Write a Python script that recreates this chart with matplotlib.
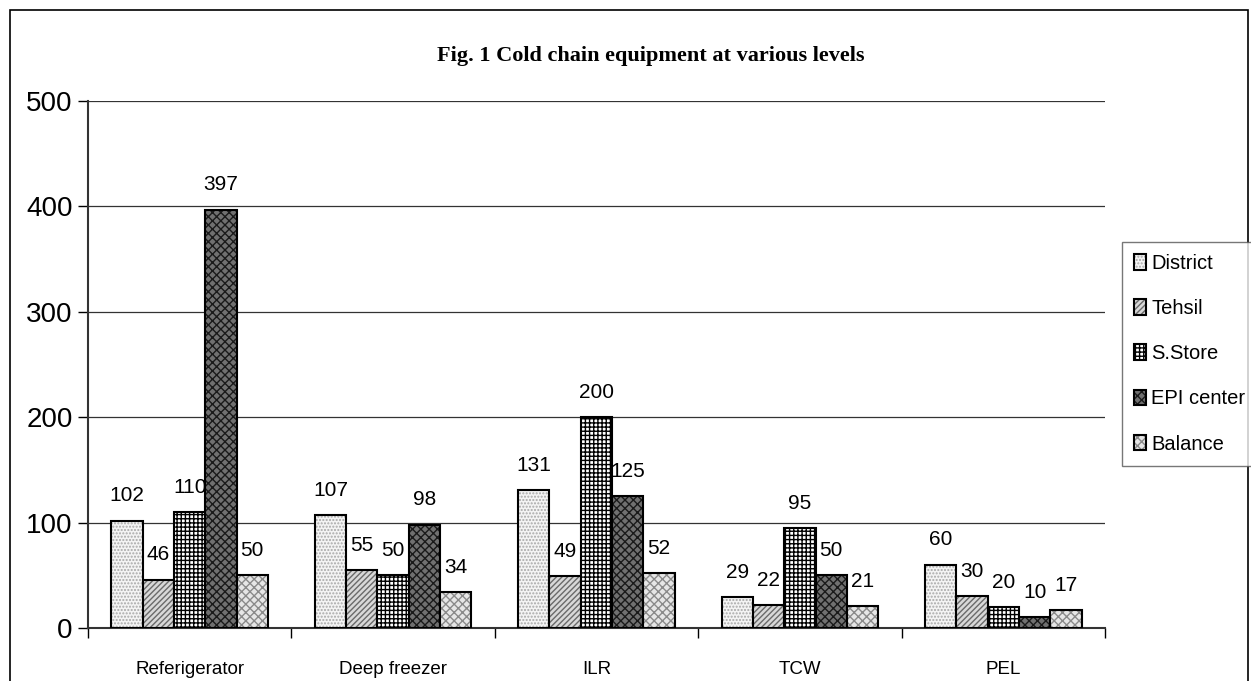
import numpy as np
import matplotlib.pyplot as plt
from matplotlib.patches import Rectangle
from matplotlib.colors import to_rgba

categories = ['Referigerator', 'Deep freezer', 'ILR', 'TCW', 'PEL']
series = ['District', 'Tehsil', 'S.Store', 'EPI center', 'Balance']
values = {
    'District':   [102, 107, 131, 29, 60],
    'Tehsil':     [46, 55, 49, 22, 30],
    'S.Store':    [110, 50, 200, 95, 20],
    'EPI center': [397, 98, 125, 50, 10],
    'Balance':    [50, 34, 52, 21, 17],
}
yticks = [0, 100, 200, 300, 400, 500]

# fill / hatch look of the old excel patterns
styles = {
    'District':   dict(facecolor='#f4f4f4', hatch='.....', hcol='#a8a8a8'),
    'Tehsil':     dict(facecolor='#d8d8d8', hatch='//////', hcol='#6a6a6a'),
    'S.Store':    dict(facecolor='white', hatch='++++', hcol='black'),
    'EPI center': dict(facecolor='#707070', hatch='xxxx', hcol='#1a1a1a'),
    'Balance':    dict(facecolor='#e6e6e6', hatch='xxxx', hcol='#8a8a8a'),
}

plt.rcParams['font.family'] = ['Liberation Sans', 'DejaVu Sans']

fig = plt.figure(figsize=(12.51, 6.81), dpi=100)
ax = fig.add_axes([0.0703, 0.0778, 0.8130, 0.7739])

x = np.arange(len(categories))
w = 0.154
handles = []
for i, s in enumerate(series):
    st = styles[s]
    pos = x + (i - 2) * w
    bars = ax.bar(pos, values[s], width=w, facecolor=st['facecolor'],
                  edgecolor='black', linewidth=1.5, hatch=st['hatch'],
                  label=s, zorder=3)
    for b in bars:
        b._hatch_color = to_rgba(st['hcol'])
    handles.append(bars)
    for px, v in zip(pos, values[s]):
        ax.annotate(str(v), (px, v), xytext=(0, 11), textcoords='offset points',
                    ha='center', va='bottom', fontsize=15)

ax.set_xlim(-0.5, len(categories) - 0.5)
ax.set_ylim(0, 500)
ax.set_yticks(yticks)
ax.set_yticklabels([str(t) for t in yticks], fontsize=20)
ax.yaxis.grid(True, color='#333333', linewidth=0.9, zorder=0)
ax.set_axisbelow(True)

ax.set_xticks(np.arange(len(categories) + 1) - 0.5)
ax.set_xticklabels([])
ax.set_xticks(x, minor=True)
ax.set_xticklabels(categories, minor=True, fontsize=13.5)
ax.tick_params(axis='x', which='minor', length=0, pad=24)
ax.tick_params(axis='x', which='major', length=7, width=1, color='black')
ax.tick_params(axis='y', length=7, width=1, pad=4)

for sp in ['top', 'right']:
    ax.spines[sp].set_visible(False)
for sp in ['left', 'bottom']:
    ax.spines[sp].set_color('#333333')
    ax.spines[sp].set_linewidth(1.5)

fig.text(0.52, 0.918, 'Fig. 1 Cold chain equipment at various levels',
         ha='center', va='center', fontsize=16, fontweight='bold',
         family=['Liberation Serif', 'DejaVu Serif'])

leg = fig.legend(handles=handles, labels=series, loc='upper left',
                 bbox_to_anchor=(0.897, 0.645), fontsize=14.5, frameon=True,
                 fancybox=False, edgecolor='#555555', handlelength=0.6,
                 handleheight=0.8, handletextpad=0.25, labelspacing=1.3,
                 borderpad=0.6, borderaxespad=0)
leg.get_frame().set_linewidth(1.0)

# outer chart border
fig.patches.append(Rectangle((0.008, -0.05), 0.99, 1.035, transform=fig.transFigure,
                             fill=False, edgecolor='black', linewidth=1.2))

fig.savefig('out.png', dpi=100)
